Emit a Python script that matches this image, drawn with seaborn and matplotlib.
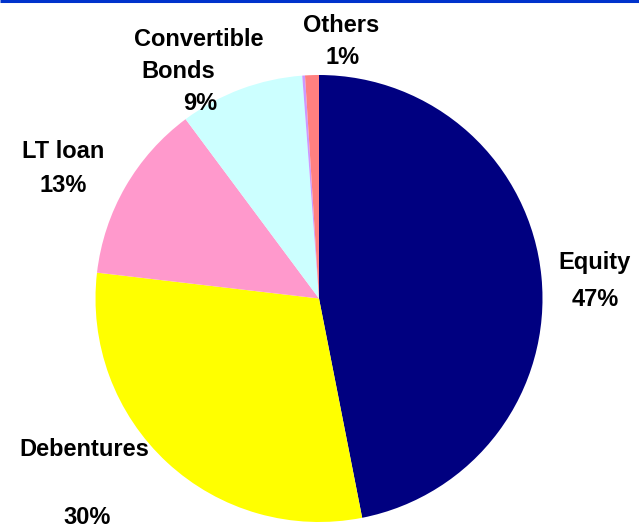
import matplotlib
matplotlib.use("Agg")
import matplotlib.pyplot as plt
import seaborn as sns

# Funding mix
categories = ["Equity", "Debentures", "LT loan", "Convertible Bonds", "Other debt", "Others"]
shares = [47, 30, 13, 9, 0.2, 1]
colors = ["#000080", "#FFFF00", "#FF99CC", "#CCFFFF", "#CC99FF", "#FF8080"]

# label text lines per category (None = unlabeled)
label_lines = {
    "Equity": ["Equity", "{pct}"],
    "Debentures": ["Debentures", "", "{pct}"],
    "LT loan": ["LT loan", "{pct}"],
    "Convertible Bonds": ["Convertible", "Bonds", "{pct}"],
    "Others": ["Others", "{pct}"],
}

sns.set_theme(style="white")
plt.rcParams["font.family"] = ["Liberation Sans", "DejaVu Sans"]

W, H = 639, 527
fig = plt.figure(figsize=(W / 100, H / 100), dpi=100)
fig.patch.set_facecolor("white")
ax = fig.add_axes([0, 0, 1, 1])
ax.set_xlim(0, W)
ax.set_ylim(0, H)
ax.set_aspect("equal")
ax.axis("off")

cx, cy, r = 319, H - 298.5, 223.5
ax.pie(shares, colors=colors, startangle=90, counterclock=False,
       center=(cx, cy), radius=r, frame=True,
       wedgeprops=dict(linewidth=0, antialiased=True))
ax.set_xlim(0, W)
ax.set_ylim(0, H)
ax.axis("off")

# label anchors (line centres) in pixel space, top-down
anchors = {
    "Equity": [(595, 263), (595, 299)],
    "Debentures": [(84, 450), None, (87, 517)],
    "LT loan": [(63, 151), (63, 186)],
    "Convertible Bonds": [(199, 40), (178, 72), (200, 104)],
    "Others": [(341, 26), (343, 58)],
}

fs = 17
for cat, val in zip(categories, shares):
    if cat not in label_lines:
        continue
    pct = f"{val:.0f}%"
    for line, pos in zip(label_lines[cat], anchors[cat]):
        if pos is None or not line:
            continue
        ax.text(pos[0], H - pos[1], line.format(pct=pct), ha="center", va="center",
                fontsize=fs, fontweight="bold", color="black")

# thin blue rule along the top edge
ax.plot([0, W], [H - 1, H - 1], color="#0033CC", linewidth=2.2, solid_capstyle="butt")

fig.savefig("out.png", dpi=100, facecolor="white")
